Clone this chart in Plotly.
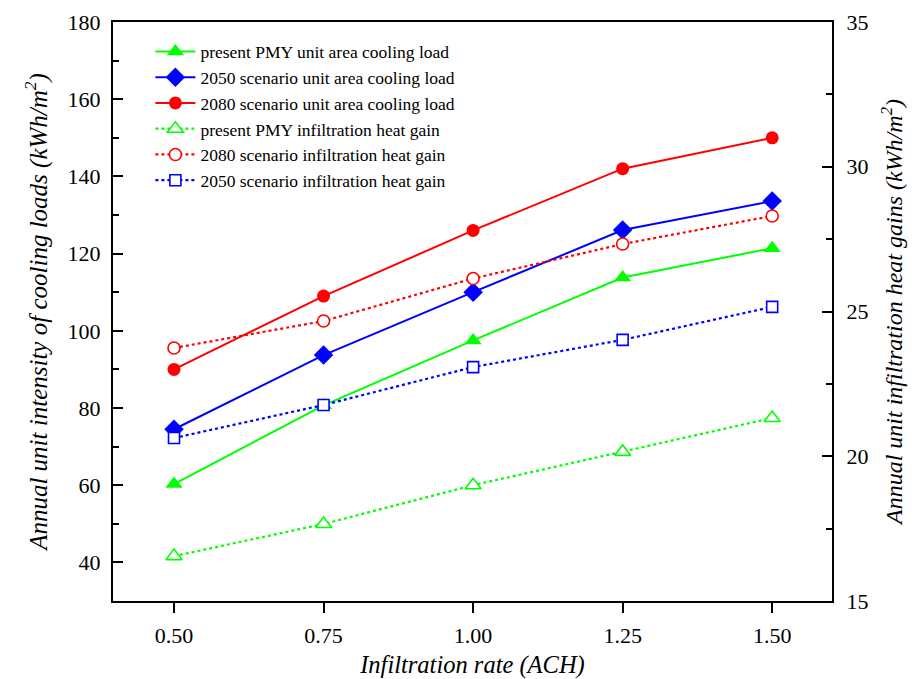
import plotly.graph_objects as go

ach = [0.50, 0.75, 1.00, 1.25, 1.50]

present_cooling = [60.3, 80.7, 97.5, 113.8, 121.4]
s2050_cooling = [74.5, 93.7, 110.0, 126.1, 133.6]
s2080_cooling = [90.0, 109.0, 126.0, 142.0, 150.0]

present_infil = [16.55, 17.66, 19.0, 20.15, 21.32]
s2080_infil = [23.74, 24.67, 26.14, 27.33, 28.3]
s2050_infil = [20.63, 21.77, 23.08, 24.02, 25.16]

x_ticks = [0.5, 0.75, 1.0, 1.25, 1.5]
x_ticklabels = ["0.50", "0.75", "1.00", "1.25", "1.50"]

GREEN = "#00ff00"
BLUE = "#0000ff"
RED = "#ff0000"
FONT = "Liberation Serif"

fig = go.Figure()

def solid(name, y, color, symbol, size):
    fig.add_trace(go.Scatter(
        x=ach, y=y, name=name, mode="lines+markers",
        line=dict(color=color, width=2),
        marker=dict(symbol=symbol, size=size, color=color),
        yaxis="y"))

def dotted(name, y, color, symbol, size):
    fig.add_trace(go.Scatter(
        x=ach, y=y, name=name, mode="lines+markers",
        line=dict(color=color, width=2.2, dash="dot"),
        marker=dict(symbol=symbol, size=size, color="white", line=dict(color=color, width=1.6)),
        yaxis="y2"))

solid("present PMY unit area cooling load", present_cooling, GREEN, "triangle-up", 15)
solid("2050 scenario unit area cooling load", s2050_cooling, BLUE, "diamond", 15)
solid("2080 scenario unit area cooling load", s2080_cooling, RED, "circle", 13)
dotted("present PMY infiltration heat gain", present_infil, GREEN, "triangle-up", 14)
dotted("2080 scenario infiltration heat gain", s2080_infil, RED, "circle", 12)
dotted("2050 scenario infiltration heat gain", s2050_infil, BLUE, "square", 11)

fig.update_layout(
    width=918, height=679,
    margin=dict(l=113, r=86, t=22, b=78),
    paper_bgcolor="white", plot_bgcolor="white",
    font=dict(family=FONT, size=22, color="black"),
    showlegend=True,
    legend=dict(x=0.052, y=0.980, xanchor="left", yanchor="top",
                bgcolor="rgba(0,0,0,0)", font=dict(family=FONT, size=17.5),
                itemwidth=40, tracegroupgap=0),
    xaxis=dict(range=[0.398, 1.6], tickvals=x_ticks, ticktext=x_ticklabels,
               automargin=False,
               showgrid=False, zeroline=False, showline=True, linecolor="black",
               linewidth=2, mirror=True, ticks="outside", ticklen=10, tickwidth=2,
               tickcolor="black", tickfont=dict(family=FONT, size=22),
               ticklabelstandoff=4,
               title=dict(text="<i>Infiltration rate (ACH)</i>", font=dict(family=FONT, size=24.5),
                          standoff=12)),
    yaxis=dict(range=[30, 180], tickvals=[40, 60, 80, 100, 120, 140, 160, 180],
               automargin=False,
               showgrid=False, zeroline=False, showline=True, linecolor="black",
               linewidth=2, ticks="inside", ticklen=10, tickwidth=2, tickcolor="black",
               ticklabelstandoff=6,
               minor=dict(dtick=10, tick0=30, ticks="inside", ticklen=6, tickwidth=2, tickcolor="black"),
               tickfont=dict(family=FONT, size=22),
               title=dict(text="<i>Annual unit intensity of cooling loads (kWh/m<sup>2</sup>)</i>",
                          font=dict(family=FONT, size=25), standoff=13)),
    yaxis2=dict(range=[15, 35], tickvals=[15, 20, 25, 30, 35], overlaying="y", side="right",
                automargin=False,
                showgrid=False, zeroline=False, showline=True, linecolor="black",
                linewidth=2, ticks="inside", ticklen=10, tickwidth=2, tickcolor="black",
                ticklabelstandoff=8,
                minor=dict(dtick=2.5, tick0=15, ticks="inside", ticklen=6, tickwidth=2, tickcolor="black"),
                tickfont=dict(family=FONT, size=22),
                title=dict(text="<i>Annual unit infiltration heat gains (kWh/m<sup>2</sup>)</i>",
                           font=dict(family=FONT, size=24), standoff=18)),
)

fig.write_html("out.html")
